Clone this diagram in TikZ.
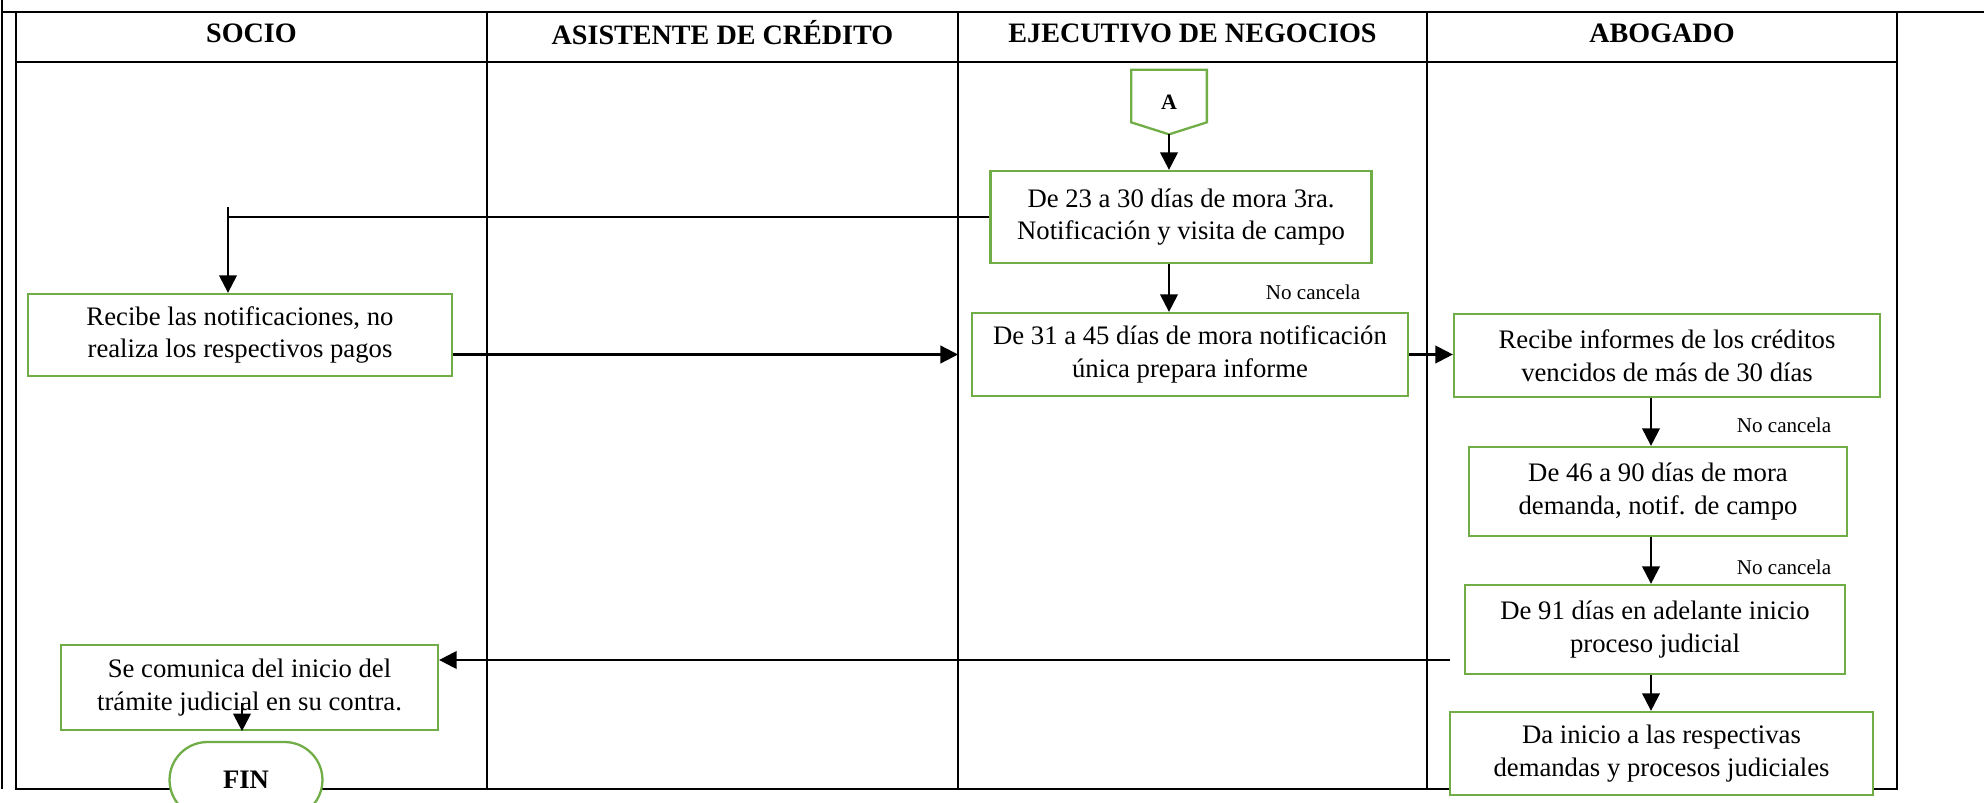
\documentclass[tikz,border=0pt]{standalone}
\usepackage{fontspec}
\setmainfont{Liberation Serif}
\usepackage{xcolor}
\usetikzlibrary{positioning, calc, arrows.meta, shapes.misc}

\definecolor{boxgreen}{RGB}{112,173,71}

\tikzset{
    proc/.style={draw=boxgreen, fill=white, line width=1.3pt, align=center, inner sep=2pt,
        font=\fontsize{15.2}{18.5}\selectfont},
    arr/.style={line width=1.3pt, -{Triangle[length=10pt, width=10pt]}},
    lane/.style={line width=1.2pt},
    head/.style={font=\fontsize{16}{19}\selectfont\bfseries},
    nocan/.style={font=\fontsize{12}{14}\selectfont}
}

\begin{document}
\begin{tikzpicture}[x=0.02cm, y=-0.02cm]
        \useasboundingbox (0,0) rectangle (1984,803);

        % the frame and the lanes
        \draw [line width=1.2pt] (2,0) -- (2,789);
        \draw [line width=1.6pt] (2,12) -- (1984,12);
        \draw [lane] (16,12) -- (16,789) -- (1897,789) -- (1897,12);
        \draw [lane] (16,62) -- (1897,62);
        \foreach \x in {487,958,1427}
            \draw [lane] (\x,12) -- (\x,789);

        \coordinate (l3) at (958,62);

        % lane titles
        \node[head] (hsocio) at (251.5,33) {SOCIO};
        \node[head] (hasist) at (722.5,33) {ASISTENTE DE CRÉDITO};
        \node[head] (hejec)  at (1192.5,33) {EJECUTIVO DE NEGOCIOS};
        \node[head] (habog)  at (1662,33) {ABOGADO};

        % connector A
        \node[minimum width=1.5cm, minimum height=1.28cm, font=\fontsize{12.5}{14}\selectfont\bfseries]
            (A) at (1169,102) {A};
        \draw [draw=boxgreen, line width=1.3pt] (A.north west) -- (A.north east)
            -- ($ (A.south east)+(0,-12) $) -- (A.south) -- ($ (A.south west)+(0,-12) $) -- cycle;

        % ejecutivo de negocios
        \node[proc, minimum width=7.62cm, minimum height=1.84cm] (tercera) at (1181,217)
            {De 23 a 30 días de mora 3ra.\\Notificación y visita de campo};
        \node[proc, minimum width=8.72cm, minimum height=1.66cm] (unica) at (1190,354.5)
            {De 31 a 45 días de mora notificación\\única prepara informe};
        \node[nocan] (nc1) at (1313,292) {No cancela};

        % socio
        \node[proc, minimum width=8.48cm, minimum height=1.64cm] (recibe) at (240,335)
            {Recibe las notificaciones, no\\realiza los respectivos pagos};
        \node[proc, minimum width=7.54cm, minimum height=1.70cm] (comunica) at (249.5,687.5)
            {Se comunica del inicio del\\trámite judicial en su contra.};
        \node[proc, rounded rectangle, minimum width=3.2cm, minimum height=1.52cm,
            font=\fontsize{15.2}{18}\selectfont\bfseries] (fin) at (246,780) {FIN};

        % abogado
        \coordinate (acol) at (1651,62);
        \node[proc, minimum width=8.52cm, minimum height=1.66cm] (informes) at (1667,355.5)
            {Recibe informes de los créditos\\vencidos de más de 30 días};
        \node[proc, minimum width=7.56cm, minimum height=1.78cm] (demanda) at (1658,491.5)
            {De 46 a 90 días de mora\\demanda, notif. de campo};
        \node[proc, minimum width=7.60cm, minimum height=1.78cm] (judicial) at (1655,629.5)
            {De 91 días en adelante inicio\\proceso judicial};
        \node[proc, minimum width=8.46cm, minimum height=1.66cm] (procesos) at (1661.5,753.5)
            {Da inicio a las respectivas\\demandas y procesos judiciales};
        \node[nocan] (nc2) at (1784,425) {No cancela};
        \node[nocan] (nc3) at (1784,567) {No cancela};

        % the arrows
        \draw [arr] (A.south) -- (A.south |- tercera.north);
        \draw [arr] (tercera.south -| A) -- (unica.north -| A);

        \coordinate (bend) at (228,207);
        \draw [line width=0.7pt] (tercera.west) -- (tercera.west -| bend);
        \draw [arr] (bend) -- (recibe.north -| bend);

        \draw [arr] (recibe.east |- unica.west) -- (l3 |- unica.west);
        \draw [arr] (unica.east) -- (unica.east -| informes.west);

        \draw [arr] (informes.south -| acol) -- (demanda.north -| acol);
        \draw [arr] (demanda.south -| acol) -- (judicial.north -| acol);
        \draw [arr] (judicial.south -| acol) -- (procesos.north -| acol);

        \coordinate (ret) at (1450,660);
        \draw [arr] (ret) -- (ret -| comunica.east);

        \coordinate (finin) at (242,703);
        \draw [arr] (finin) -- (finin |- comunica.south);
    \end{tikzpicture}
\end{document}
